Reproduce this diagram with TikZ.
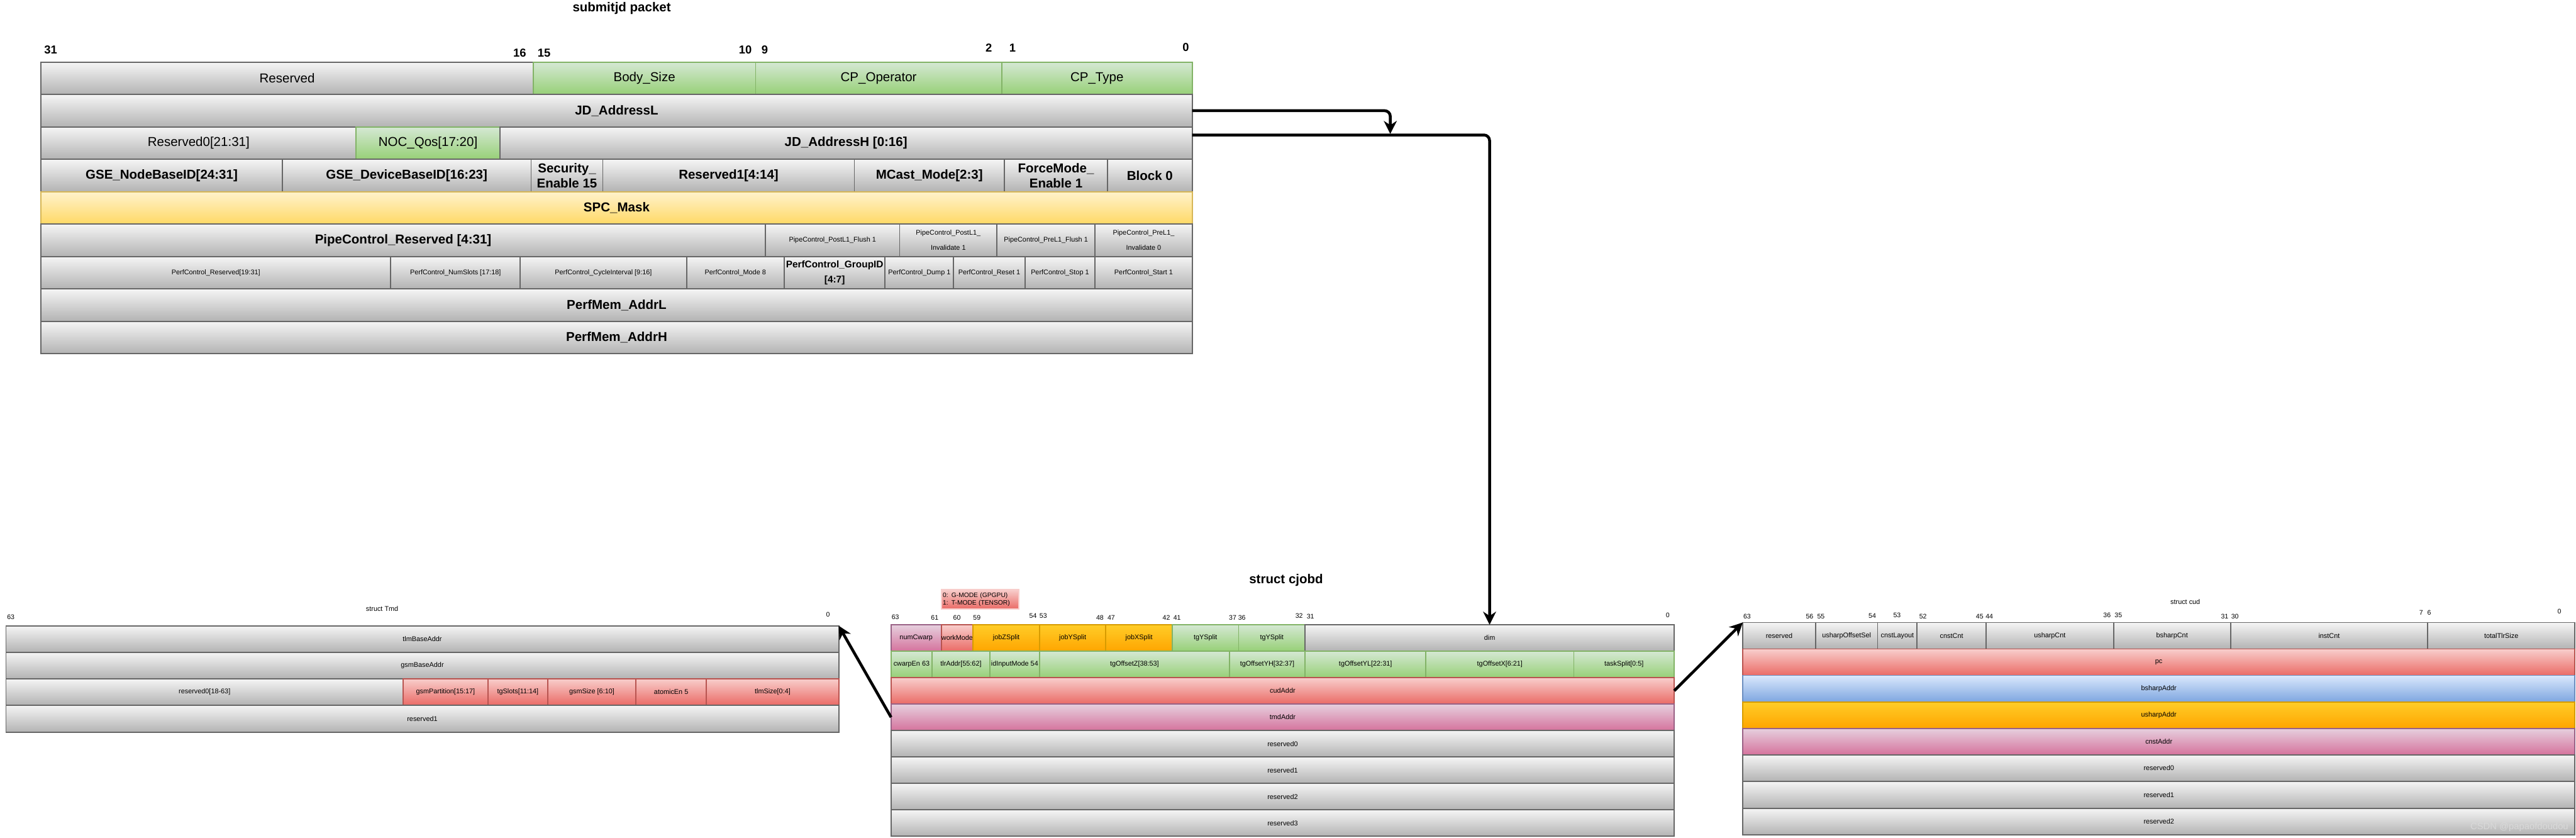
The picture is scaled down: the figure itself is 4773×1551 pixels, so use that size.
\documentclass[tikz,border=0pt]{standalone}
\usepackage{fontspec}
\setmainfont{Liberation Sans}
\usetikzlibrary{arrows.meta}

\definecolor{grayT}{HTML}{F5F5F5}\definecolor{grayB}{HTML}{B3B3B3}\definecolor{grayS}{HTML}{666666}
\definecolor{greenT}{HTML}{D5E8D4}\definecolor{greenB}{HTML}{97D077}\definecolor{greenS}{HTML}{82B366}
\definecolor{yellowT}{HTML}{FFF2CC}\definecolor{yellowB}{HTML}{FFD966}\definecolor{yellowS}{HTML}{D6B656}
\definecolor{redT}{HTML}{F8CECC}\definecolor{redB}{HTML}{EA6B66}\definecolor{redS}{HTML}{B85450}
\definecolor{orangeT}{HTML}{FFCD28}\definecolor{orangeB}{HTML}{FFA500}\definecolor{orangeS}{HTML}{D79B00}
\definecolor{pinkT}{HTML}{E6D0DE}\definecolor{pinkB}{HTML}{D5739D}\definecolor{pinkS}{HTML}{996185}
\definecolor{blueT}{HTML}{DAE8FC}\definecolor{blueB}{HTML}{7EA6E0}\definecolor{blueS}{HTML}{6C8EBF}

% field: name, style, x1, x2, y1, y2, text (pixel units)
\newcommand{\fld}[7]{%
  \node[field,#2,minimum width={(#4-#3)*0.01cm},minimum height={(#6-#5)*0.01cm}]
    (#1) at ({(#3+#4)/2},{(#5+#6)/2}) {#7};}

\begin{document}
\begin{tikzpicture}[
  x=0.01cm, y=-0.01cm,
  field/.style={inner sep=0pt, outer sep=0pt, align=center, line width=0.6pt},
  fgray/.style={draw=grayS, top color=grayT, bottom color=grayB},
  fgreen/.style={draw=greenS, top color=greenT, bottom color=greenB},
  fyellow/.style={draw=yellowS, top color=yellowT, bottom color=yellowB},
  fred/.style={draw=redS, top color=redT, bottom color=redB},
  forange/.style={draw=orangeS, top color=orangeT, bottom color=orangeB},
  fpink/.style={draw=pinkS, top color=pinkT, bottom color=pinkB},
  fblue/.style={draw=blueS, top color=blueT, bottom color=blueB},
  tbig/.style={font=\fontsize{6.8}{8}\selectfont},
  tbold/.style={font=\bfseries\fontsize{6.8}{8}\selectfont},
  tgroup/.style={font=\bfseries\fontsize{5.1}{8}\selectfont},
  tsmall/.style={font=\fontsize{3.6}{8}\selectfont},
  tlegend/.style={font=\fontsize{3.4}{4}\selectfont},
  bitb/.style={font=\bfseries\fontsize{6.1}{7}\selectfont, inner sep=0pt},
  bits/.style={font=\fontsize{3.5}{4}\selectfont, inner sep=0pt},
  arr/.style={-{Stealth[length=2.4mm,width=2.4mm]}, line width=1.5pt},
]
  \useasboundingbox (0,0) rectangle (4773,1551);

  % ---------- submitjd packet ----------
  \node[tbold] (ttl) at (1152,15) {submitjd packet};
  \foreach \v/\x/\y in {31/94/92, 16/963/98, 15/1008/98, 10/1381/92,
                        9/1417/92, 2/1832/89, 1/1876/89, 0/2197/88}
    \node[bitb] (tb\v) at (\x,\y) {\v};

  \fld{rsv}{fgray,tbig}{76}{988}{115}{175}{Reserved}
  \fld{bsz}{fgreen,tbig}{988}{1400}{115}{175}{Body\_Size}
  \fld{cpop}{fgreen,tbig}{1400}{1856}{115}{175}{CP\_Operator}
  \fld{cptp}{fgreen,tbig}{1856}{2209}{115}{175}{CP\_Type}

  \fld{jdl}{fgray,tbold}{76}{2209}{175}{235}{JD\_AddressL}

  \fld{rsvz}{fgray,tbig}{76}{660}{235}{295}{Reserved0[21:31]}
  \fld{noc}{fgreen,tbig}{660}{926}{235}{295}{NOC\_Qos[17:20]}
  \fld{jdh}{fgray,tbold}{926}{2209}{235}{295}{JD\_AddressH [0:16]}

  \fld{gsen}{fgray,tbold}{76}{523}{295}{355}{GSE\_NodeBaseID[24:31]}
  \fld{gsed}{fgray,tbold}{523}{984}{295}{355}{GSE\_DeviceBaseID[16:23]}
  \fld{sec}{fgray,tbold}{984}{1117}{295}{355}{Security\_\\Enable 15}
  \fld{rsvo}{fgray,tbold}{1117}{1583}{295}{355}{Reserved1[4:14]}
  \fld{mcast}{fgray,tbold}{1583}{1861}{295}{355}{MCast\_Mode[2:3]}
  \fld{force}{fgray,tbold}{1861}{2052}{295}{355}{ForceMode\_\\Enable 1}
  \fld{blk}{fgray,tbold}{2052}{2209}{295}{355}{Block 0}

  \fld{spc}{fyellow,tbold}{76}{2209}{355}{415}{SPC\_Mask}

  \fld{pcr}{fgray,tbold}{76}{1418}{415}{475}{PipeControl\_Reserved [4:31]}
  \fld{pcpof}{fgray,tsmall}{1418}{1667}{415}{475}{PipeControl\_PostL1\_Flush 1}
  \fld{pcpoi}{fgray,tsmall}{1667}{1847}{415}{475}{PipeControl\_PostL1\_\\Invalidate 1}
  \fld{pcprf}{fgray,tsmall}{1847}{2029}{415}{475}{PipeControl\_PreL1\_Flush 1}
  \fld{pcpri}{fgray,tsmall}{2029}{2209}{415}{475}{PipeControl\_PreL1\_\\Invalidate 0}

  \fld{pfr}{fgray,tsmall}{76}{724}{475}{535}{PerfControl\_Reserved[19:31]}
  \fld{pfn}{fgray,tsmall}{724}{964}{475}{535}{PerfControl\_NumSlots [17:18]}
  \fld{pfc}{fgray,tsmall}{964}{1272}{475}{535}{PerfControl\_CycleInterval [9:16]}
  \fld{pfm}{fgray,tsmall}{1272}{1453}{475}{535}{PerfControl\_Mode 8}
  \fld{pfg}{fgray,tgroup}{1453}{1640}{475}{535}{PerfControl\_GroupID\\{[4:7]}}
  \fld{pfd}{fgray,tsmall}{1640}{1767}{475}{535}{PerfControl\_Dump 1}
  \fld{pfrs}{fgray,tsmall}{1767}{1899}{475}{535}{PerfControl\_Reset 1}
  \fld{pfs}{fgray,tsmall}{1899}{2029}{475}{535}{PerfControl\_Stop 1}
  \fld{pfst}{fgray,tsmall}{2029}{2209}{475}{535}{PerfControl\_Start 1}

  \fld{pml}{fgray,tbold}{76}{2209}{535}{595}{PerfMem\_AddrL}
  \fld{pmh}{fgray,tbold}{76}{2209}{595}{655}{PerfMem\_AddrH}

  % ---------- struct Tmd ----------
  \node[tsmall] (tmt) at (708,1128) {struct Tmd};
  \foreach \v/\x/\y in {63/20/1143, 0/1534/1138}
    \node[bits] (mb\v) at (\x,\y) {\v};

  \fld{tlm}{fgray,tsmall}{11}{1554}{1159}{1208}{tlmBaseAddr}
  \fld{gsmb}{fgray,tsmall}{11}{1554}{1208}{1257}{gsmBaseAddr}
  \fld{tmdr}{fgray,tsmall}{11}{747}{1257}{1306}{reserved0[18-63]}
  \fld{gsmp}{fred,tsmall}{747}{904}{1257}{1306}{gsmPartition[15:17]}
  \fld{tgsl}{fred,tsmall}{904}{1015}{1257}{1306}{tgSlots[11:14]}
  \fld{gsms}{fred,tsmall}{1015}{1178}{1257}{1306}{gsmSize [6:10]}
  \fld{atom}{fred,tsmall}{1178}{1309}{1257}{1306}{atomicEn 5}
  \fld{tlms}{fred,tsmall}{1309}{1554}{1257}{1306}{tlmSize[0:4]}
  \fld{tmdo}{fgray,tsmall}{11}{1554}{1306}{1356}{reserved1}

  % ---------- struct cjobd ----------
  \node[tbold] (cjt) at (2383,1075) {struct cjobd};
  \fld{mode}{fred,draw=redT,tlegend,text width=1.38cm,align=left}{1744}{1888}{1092}{1128}%
    {0: G-MODE (GPGPU)\\1: T-MODE (TENSOR)}
  \foreach \v/\x/\y in {63/1659/1143, 61/1732/1144, 60/1773/1144, 59/1810/1144,
                        54/1914/1141, 53/1933/1141, 48/2038/1144, 47/2059/1144,
                        42/2161/1144, 41/2181/1144, 37/2284/1144, 36/2301/1144,
                        32/2407/1141, 31/2428/1142, 0/3090/1139}
    \node[bits] (jb\v) at (\x,\y) {\v};

  \fld{ncw}{fpink,tsmall}{1651}{1744}{1157}{1206}{numCwarp}
  \fld{wkm}{fred,tsmall}{1744}{1803}{1157}{1206}{workMode}
  \fld{jzs}{forange,tsmall}{1803}{1926}{1157}{1206}{jobZSplit}
  \fld{jys}{forange,tsmall}{1926}{2049}{1157}{1206}{jobYSplit}
  \fld{jxs}{forange,tsmall}{2049}{2172}{1157}{1206}{jobXSplit}
  \fld{tys}{fgreen,tsmall}{2172}{2295}{1157}{1206}{tgYSplit}
  \fld{tyt}{fgreen,tsmall}{2295}{2418}{1157}{1206}{tgYSplit}
  \fld{dim}{fgray,tsmall}{2418}{3102}{1157}{1206}{dim}

  \fld{cwe}{fgreen,tsmall}{1651}{1727}{1206}{1255}{cwarpEn 63}
  \fld{tlr}{fgreen,tsmall}{1727}{1834}{1206}{1255}{tlrAddr[55:62]}
  \fld{idm}{fgreen,tsmall}{1834}{1926}{1206}{1255}{idInputMode 54}
  \fld{toz}{fgreen,tsmall}{1926}{2278}{1206}{1255}{tgOffsetZ[38:53]}
  \fld{toyh}{fgreen,tsmall}{2278}{2418}{1206}{1255}{tgOffsetYH[32:37]}
  \fld{toyl}{fgreen,tsmall}{2418}{2642}{1206}{1255}{tgOffsetYL[22:31]}
  \fld{tox}{fgreen,tsmall}{2642}{2916}{1206}{1255}{tgOffsetX[6:21]}
  \fld{tsk}{fgreen,tsmall}{2916}{3102}{1206}{1255}{taskSplit[0:5]}

  \fld{cudA}{fred,tsmall}{1651}{3102}{1255}{1304}{cudAddr}
  \fld{tmdA}{fpink,tsmall}{1651}{3102}{1304}{1353}{tmdAddr}
  \fld{jrz}{fgray,tsmall}{1651}{3102}{1353}{1402}{reserved0}
  \fld{jro}{fgray,tsmall}{1651}{3102}{1402}{1451}{reserved1}
  \fld{jrt}{fgray,tsmall}{1651}{3102}{1451}{1500}{reserved2}
  \fld{jrh}{fgray,tsmall}{1651}{3102}{1500}{1549}{reserved3}

  % ---------- struct cud ----------
  \node[tsmall] (cut) at (4049,1115) {struct cud};
  \foreach \v/\x/\y in {63/3237/1142, 56/3353/1142, 55/3374/1142, 54/3469/1141,
                        53/3515/1140, 52/3563/1142, 45/3668/1142, 44/3686/1142,
                        36/3904/1140, 35/3925/1140, 31/4122/1142, 30/4141/1142,
                        7/4486/1135, 6/4501/1135, 0/4742/1132}
    \node[bits] (cb\v) at (\x,\y) {\v};

  \fld{crs}{fgray,tsmall}{3229}{3364}{1153}{1202}{reserved}
  \fld{uos}{fgray,tsmall}{3364}{3479}{1153}{1202}{usharpOffsetSel}
  \fld{cly}{fgray,tsmall}{3479}{3552}{1153}{1202}{cnstLayout}
  \fld{ccn}{fgray,tsmall}{3552}{3680}{1153}{1202}{cnstCnt}
  \fld{ucn}{fgray,tsmall}{3680}{3916}{1153}{1202}{usharpCnt}
  \fld{bcn}{fgray,tsmall}{3916}{4133}{1153}{1202}{bsharpCnt}
  \fld{icn}{fgray,tsmall}{4133}{4498}{1153}{1202}{instCnt}
  \fld{tts}{fgray,tsmall}{4498}{4771}{1153}{1202}{totalTlrSize}

  \fld{pc}{fred,tsmall}{3229}{4771}{1202}{1251}{pc}
  \fld{bsa}{fblue,tsmall}{3229}{4771}{1251}{1300}{bsharpAddr}
  \fld{usa}{forange,tsmall}{3229}{4771}{1300}{1349}{usharpAddr}
  \fld{csa}{fpink,tsmall}{3229}{4771}{1349}{1398}{cnstAddr}
  \fld{crz}{fgray,tsmall}{3229}{4771}{1398}{1447}{reserved0}
  \fld{cro}{fgray,tsmall}{3229}{4771}{1447}{1497}{reserved1}
  \fld{crt}{fgray,tsmall}{3229}{4771}{1497}{1546}{reserved2}

  \node[font=\fontsize{4.9}{6}\selectfont, text=white!85!black] (wm) at (4668,1532)
    {CSDN @papaofdoudou};

  % ---------- connectors ----------
  % JD_AddressL arrow stops on the JD_AddressH line
  \coordinate (jdlend) at (2576,248);
  \draw[arr, rounded corners=3pt] (jdl.east) -| (jdlend);
  \draw[arr, rounded corners=3pt] ([yshift=0.15cm]jdh.east) -| (dim.north);
  \draw[arr] (tmdA.west) -- (tlm.north east);
  \draw[arr] (cudA.east) -- (crs.north west);
\end{tikzpicture}
\end{document}
